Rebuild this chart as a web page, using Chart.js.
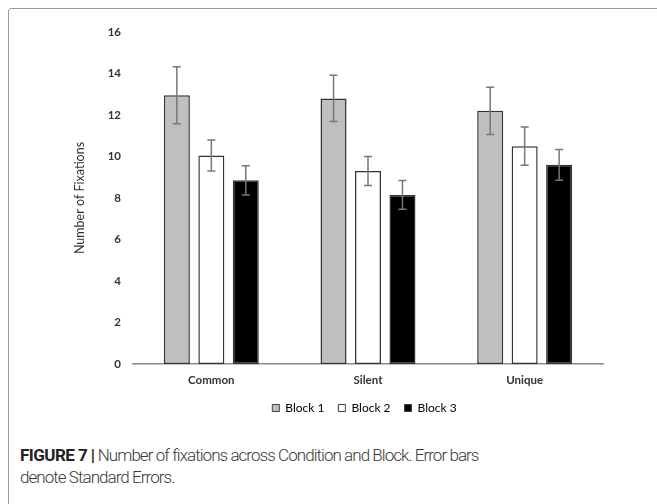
<!DOCTYPE html>
<html><head><meta charset="utf-8">
<script src="https://cdn.jsdelivr.net/npm/chart.js@4/dist/chart.umd.min.js"></script>
<style>
html,body{margin:0;padding:0;background:#fff;width:657px;height:504px;overflow:hidden;position:relative;}
#frame{position:absolute;left:8px;top:8px;width:720px;height:600px;border:1px solid #9a9a9a;border-radius:3px;box-sizing:border-box;}
#wrap{position:absolute;left:0;top:0;width:657px;height:430px;}
#cap{position:absolute;left:20px;top:444px;width:470px;font-family:Roboto,"Liberation Sans",sans-serif;font-size:17px;line-height:22px;color:#3a3a3a;font-weight:300;letter-spacing:-0.95px;}
#cap b{font-weight:700;color:#222;letter-spacing:-0.55px;}
</style></head><body>
<div id="frame"></div>
<div id="wrap"><canvas id="c"></canvas></div>
<div id="cap"><b>FIGURE 7 |</b> Number of fixations across Condition and Block. Error bars denote Standard Errors.</div>
<script>
const categories = ["Common", "Silent", "Unique"];
const seriesNames = ["Block 1", "Block 2", "Block 3"];
const block1 = [12.95, 12.8, 12.2];
const block2 = [10.05, 9.3, 10.5];
const block3 = [8.85, 8.15, 9.6];
const err1 = [1.37, 1.11, 1.14];
const err2 = [0.75, 0.70, 0.92];
const err3 = [0.71, 0.69, 0.74];
const yTicks = [0, 2, 4, 6, 8, 10, 12, 14, 16];

const fills = ["#bfbfbf", "#ffffff", "#000000"];
const errs = [err1, err2, err3];

const errorBars = {
  id: 'errorBars',
  afterLayout(chart) {
    if (chart.legend) { chart.legend.left += 27; chart.legend.right += 27; }
  },
  afterDatasetsDraw(chart) {
    const ctx = chart.ctx, y = chart.scales.y;
    ctx.save();
    ctx.strokeStyle = '#777777';
    ctx.lineWidth = 1.5;
    chart.data.datasets.forEach((ds, di) => {
      const meta = chart.getDatasetMeta(di);
      meta.data.forEach((bar, i) => {
        const v = ds.data[i], e = ds.errors[i];
        const x = bar.x, yt = y.getPixelForValue(v + e), yb = y.getPixelForValue(v - e);
        ctx.beginPath();
        ctx.moveTo(x, yt); ctx.lineTo(x, yb);
        ctx.moveTo(x - 4, yt); ctx.lineTo(x + 4, yt);
        ctx.moveTo(x - 4, yb); ctx.lineTo(x + 4, yb);
        ctx.stroke();
      });
    });
    ctx.restore();
  }
};

new Chart(document.getElementById('c'), {
  type: 'bar',
  data: {
    labels: categories,
    datasets: [block1, block2, block3].map((d, i) => ({
      label: seriesNames[i],
      data: d,
      errors: errs[i],
      backgroundColor: fills[i],
      borderColor: '#333333',
      borderWidth: 1.5,
      borderSkipped: false,
      categoryPercentage: 0.66,
      barPercentage: 0.755
    }))
  },
  options: {
    responsive: true,
    maintainAspectRatio: false,
    animation: false,
    devicePixelRatio: 1,
    layout: { padding: { left: 72, right: 54, top: 32, bottom: 6 } },
    plugins: {
      tooltip: { enabled: false },
      legend: {
        position: 'bottom',
        labels: {
          boxWidth: 7, boxHeight: 7, padding: 14,
          color: '#505050',
          font: { family: 'Lato', size: 12 },
          generateLabels(chart) {
            return chart.data.datasets.map((ds, i) => ({
              text: ds.label, fillStyle: ds.backgroundColor, strokeStyle: '#404040',
              lineWidth: 1, datasetIndex: i, hidden: false
            }));
          }
        }
      }
    },
    scales: {
      x: {
        grid: { display: false, drawTicks: false },
        border: { display: true, color: '#8a8a8a', width: 1.5 },
        ticks: { color: '#333', padding: 9, font: { family: 'Lato', size: 11.5, weight: 'bold' } },
        afterFit(s) { s.height = 24; }
      },
      y: {
        min: 0, max: 16,
        afterBuildTicks(s) { s.ticks = yTicks.map(v => ({ value: v })); },
        grid: { display: false, drawTicks: false },
        border: { display: false },
        ticks: { color: '#333', padding: 12, font: { family: 'Lato', size: 11.5, weight: 'bold' } },
        title: { display: true, text: 'Number of Fixations', color: '#333', padding: 0, font: { family: 'Lato', size: 12.5 } },
        afterFit(s) { s.width = 61; }
      }
    }
  },
  plugins: [errorBars]
});
</script>
</body></html>
